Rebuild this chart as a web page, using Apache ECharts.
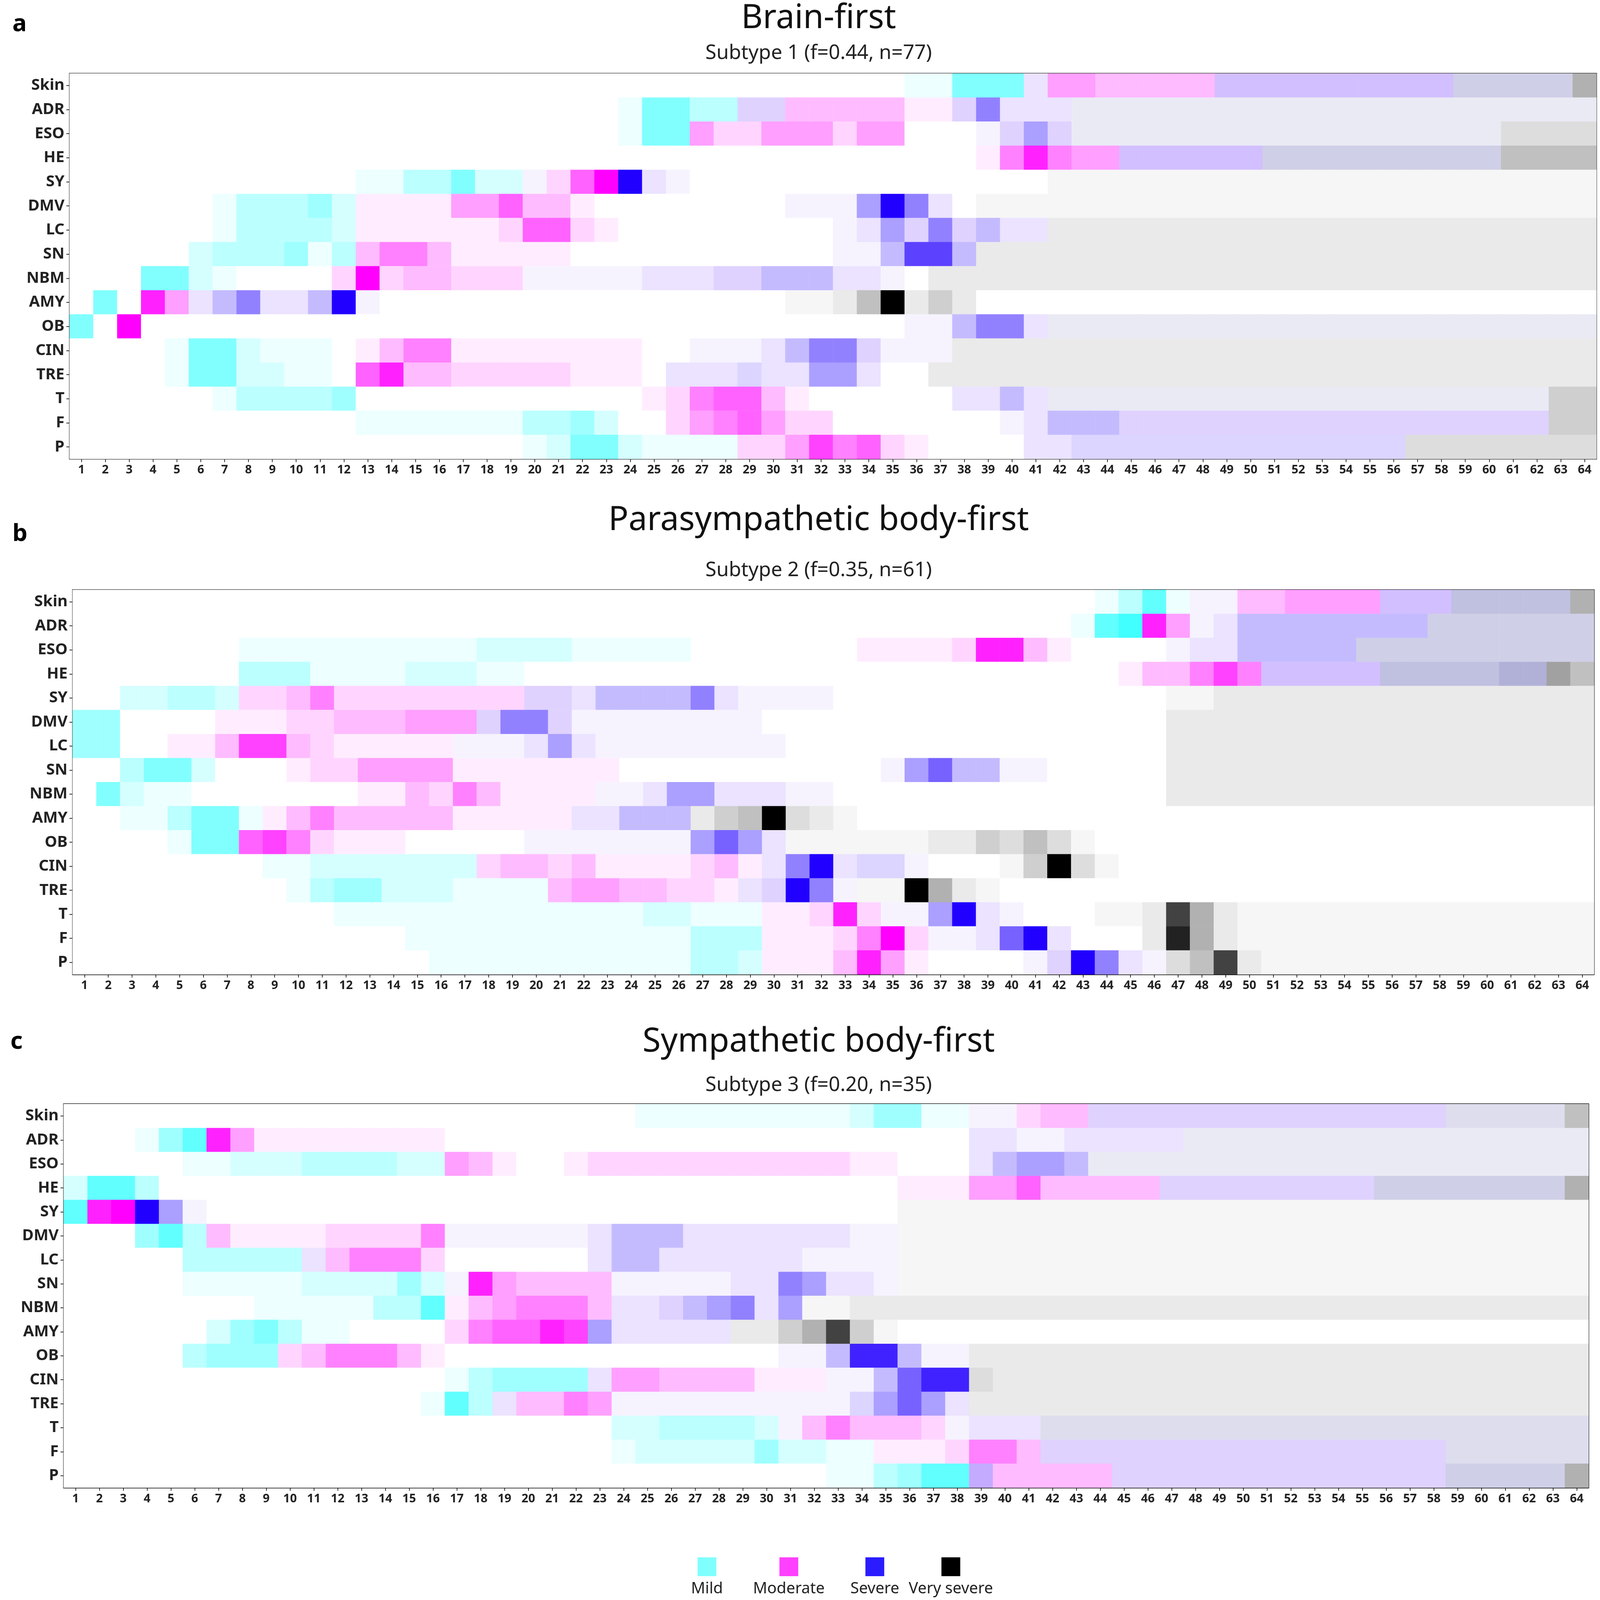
<!DOCTYPE html>
<html><head><meta charset="utf-8">
<script src="https://cdn.jsdelivr.net/npm/echarts@6/dist/echarts.min.js"></script>
<style>html,body{margin:0;background:#fff;overflow:hidden}#c{width:100vw;height:100vh}</style>
</head><body><div id="c"></div>
<script>
const rows = ['Skin','ADR','ESO','HE','SY','DMV','LC','SN','NBM','AMY','OB','CIN','TRE','T','F','P'];
const stages = Array.from({length:64},(_,i)=>String(i+1));
const titles = ['Brain-first','Parasympathetic body-first','Sympathetic body-first'];
const subtitles = ['Subtype 1 (f=0.44, n=77)','Subtype 2 (f=0.35, n=61)','Subtype 3 (f=0.20, n=35)'];
const legendLabels = ['Mild','Moderate','Severe','Very severe'];
// each row: segments [fromStage, toStage, code] ; code = level letter + intensity 0-9
const panelA = [
 [[36,37,'c1'],[38,40,'c5'],[41,41,'p2'],[42,43,'m4'],[44,48,'m3'],[49,58,'p4'],[59,63,'v4'],[64,64,'g6']],
 [[24,24,'c1'],[25,26,'c5'],[27,28,'c3'],[29,30,'p3'],[31,35,'m3'],[36,37,'m1'],[38,38,'p3'],[39,39,'b5'],[40,42,'p2'],[43,64,'v2']],
 [[24,24,'c1'],[25,26,'c5'],[27,27,'m4'],[28,29,'m2'],[30,32,'m4'],[33,33,'m2'],[34,35,'m4'],[39,39,'p1'],[40,40,'p3'],[41,41,'b4'],[42,42,'p3'],[43,60,'v2'],[61,64,'g3']],
 [[39,39,'m1'],[40,40,'m5'],[41,41,'m8'],[42,42,'m5'],[43,44,'m4'],[45,50,'p4'],[51,60,'v4'],[61,64,'g5']],
 [[13,14,'c1'],[15,16,'c3'],[17,17,'c5'],[18,19,'c2'],[20,20,'p1'],[21,21,'m2'],[22,22,'m6'],[23,23,'m9'],[24,24,'b9'],[25,25,'p2'],[26,26,'p1'],[42,64,'g1']],
 [[7,7,'c1'],[8,10,'c3'],[11,11,'c4'],[12,12,'c2'],[13,16,'m1'],[17,18,'m4'],[19,19,'m6'],[20,21,'m3'],[22,22,'m1'],[31,33,'p1'],[34,34,'b4'],[35,35,'b9'],[36,36,'b5'],[37,37,'p2'],[39,64,'g1']],
 [[7,7,'c1'],[8,11,'c3'],[12,12,'c2'],[13,18,'m1'],[19,19,'m2'],[20,21,'m6'],[22,22,'m2'],[23,23,'m1'],[33,33,'p1'],[34,34,'p2'],[35,35,'b4'],[36,36,'p3'],[37,37,'b5'],[38,38,'p3'],[39,39,'b3'],[40,41,'p2'],[42,64,'g2']],
 [[6,6,'c2'],[7,9,'c3'],[10,10,'c4'],[11,11,'c1'],[12,12,'c3'],[13,13,'m3'],[14,15,'m5'],[16,16,'m3'],[17,21,'m1'],[33,34,'p1'],[35,35,'b3'],[36,37,'b7'],[38,38,'b3'],[39,64,'g2']],
 [[4,5,'c5'],[6,6,'c2'],[7,7,'c1'],[12,12,'m2'],[13,13,'m9'],[14,14,'m2'],[15,16,'m3'],[17,19,'m2'],[20,24,'p1'],[25,27,'p2'],[28,29,'p3'],[30,32,'b3'],[33,34,'p2'],[35,35,'p1'],[37,64,'g2']],
 [[2,2,'c5'],[4,4,'m8'],[5,5,'m4'],[6,6,'p2'],[7,7,'b3'],[8,8,'b5'],[9,10,'p2'],[11,11,'b3'],[12,12,'b9'],[13,13,'p1'],[31,32,'g1'],[33,33,'g2'],[34,34,'g5'],[35,35,'k9'],[36,36,'g2'],[37,37,'g4'],[38,38,'g2']],
 [[1,1,'c5'],[3,3,'m9'],[36,37,'p1'],[38,38,'b3'],[39,40,'b5'],[41,41,'p2'],[42,64,'v2']],
 [[5,5,'c1'],[6,7,'c5'],[8,8,'c2'],[9,11,'c1'],[13,13,'m1'],[14,14,'m3'],[15,16,'m5'],[17,24,'m1'],[27,29,'p1'],[30,30,'p2'],[31,31,'b3'],[32,33,'b5'],[34,34,'p3'],[35,37,'p1'],[38,64,'g2']],
 [[5,5,'c1'],[6,7,'c5'],[8,9,'c2'],[10,11,'c1'],[13,13,'m6'],[14,14,'m8'],[15,16,'m3'],[17,21,'m2'],[22,24,'m1'],[26,28,'p2'],[29,29,'b2'],[30,31,'p2'],[32,33,'b4'],[34,34,'p2'],[37,64,'g2']],
 [[7,7,'c1'],[8,11,'c3'],[12,12,'c4'],[25,25,'m1'],[26,26,'m2'],[27,27,'m5'],[28,29,'m6'],[30,30,'m3'],[31,31,'m1'],[38,39,'p2'],[40,40,'b3'],[41,41,'p2'],[42,62,'v2'],[63,64,'g4']],
 [[13,19,'c1'],[20,21,'c3'],[22,22,'c4'],[23,23,'c2'],[26,26,'m2'],[27,27,'m4'],[28,28,'m5'],[29,29,'m6'],[30,30,'m4'],[31,32,'m2'],[40,40,'p1'],[41,41,'p2'],[42,44,'b3'],[45,62,'p3'],[63,64,'g4']],
 [[20,20,'c1'],[21,21,'c2'],[22,23,'c5'],[24,24,'c2'],[25,28,'c1'],[29,30,'m2'],[31,31,'m4'],[32,32,'m7'],[33,33,'m5'],[34,34,'m6'],[35,35,'m2'],[36,36,'m1'],[41,42,'p2'],[43,56,'b2'],[57,64,'g3']]
];
const panelB = [
 [[44,44,'c1'],[45,45,'c3'],[46,46,'c6'],[47,47,'c1'],[48,49,'p1'],[50,51,'m3'],[52,55,'m4'],[56,58,'p4'],[59,63,'v5'],[64,64,'g6']],
 [[43,43,'c1'],[44,44,'c6'],[45,45,'c7'],[46,46,'m8'],[47,47,'m4'],[48,48,'p1'],[49,49,'p2'],[50,57,'b3'],[58,64,'v4']],
 [[8,17,'c1'],[18,21,'c2'],[22,26,'c1'],[34,37,'m1'],[38,38,'m2'],[39,40,'m8'],[41,41,'m3'],[42,42,'m1'],[47,47,'p1'],[48,49,'p2'],[50,54,'b3'],[55,64,'v4']],
 [[8,10,'c3'],[11,14,'c1'],[15,17,'c2'],[18,19,'c1'],[45,45,'m1'],[46,47,'m3'],[48,48,'m5'],[49,49,'m7'],[50,50,'m5'],[51,55,'p4'],[56,60,'v5'],[61,62,'v6'],[63,63,'g7'],[64,64,'g5']],
 [[3,4,'c2'],[5,6,'c3'],[7,7,'c2'],[8,9,'m2'],[10,10,'m3'],[11,11,'m5'],[12,19,'m2'],[20,21,'p3'],[22,22,'p2'],[23,26,'b3'],[27,27,'b5'],[28,28,'p2'],[29,32,'p1'],[47,48,'g1'],[49,64,'g2']],
 [[1,2,'c4'],[7,9,'m1'],[10,11,'m2'],[12,14,'m3'],[15,17,'m4'],[18,18,'p3'],[19,20,'b5'],[21,21,'p3'],[22,29,'p1'],[47,64,'g2']],
 [[1,2,'c4'],[5,6,'m1'],[7,7,'m3'],[8,9,'m7'],[10,10,'m3'],[11,11,'m2'],[12,16,'m1'],[17,19,'p1'],[20,20,'p2'],[21,21,'b4'],[22,22,'p2'],[23,30,'p1'],[47,64,'g2']],
 [[3,3,'c3'],[4,5,'c5'],[6,6,'c2'],[10,10,'m1'],[11,12,'m2'],[13,16,'m4'],[17,23,'m1'],[35,35,'p1'],[36,36,'b4'],[37,37,'b6'],[38,39,'b3'],[40,41,'p1'],[47,64,'g2']],
 [[2,2,'c5'],[3,3,'c2'],[4,5,'c1'],[13,14,'m1'],[15,15,'m3'],[16,16,'m2'],[17,17,'m5'],[18,18,'m3'],[19,22,'m1'],[23,24,'p1'],[25,25,'p2'],[26,27,'b4'],[28,30,'p2'],[31,32,'p1'],[47,64,'g2']],
 [[3,4,'c1'],[5,5,'c3'],[6,7,'c5'],[8,8,'c1'],[9,9,'m1'],[10,10,'m3'],[11,11,'m5'],[12,16,'m3'],[17,21,'m1'],[22,23,'p2'],[24,26,'b3'],[27,27,'g2'],[28,28,'g4'],[29,29,'g5'],[30,30,'k9'],[31,31,'g3'],[32,32,'g2'],[33,33,'g1']],
 [[5,5,'c1'],[6,7,'c5'],[8,8,'m6'],[9,9,'m7'],[10,10,'m5'],[11,11,'m2'],[12,14,'m1'],[20,26,'p1'],[27,27,'b4'],[28,28,'b6'],[29,29,'b4'],[30,30,'p2'],[31,36,'g1'],[37,38,'g2'],[39,39,'g4'],[40,40,'g3'],[41,41,'g5'],[42,42,'g3'],[43,43,'g1']],
 [[9,10,'c1'],[11,17,'c2'],[18,18,'m2'],[19,20,'m3'],[21,21,'m2'],[22,22,'m3'],[23,26,'m1'],[27,27,'m2'],[28,28,'m3'],[29,29,'m1'],[30,30,'p2'],[31,31,'b5'],[32,32,'b9'],[33,33,'p2'],[34,35,'b2'],[36,36,'p1'],[40,40,'g1'],[41,41,'g4'],[42,42,'k9'],[43,43,'g3'],[44,44,'g1']],
 [[10,10,'c1'],[11,11,'c3'],[12,13,'c4'],[14,16,'c2'],[17,20,'c1'],[21,21,'m3'],[22,23,'m4'],[24,25,'m3'],[26,27,'m2'],[28,28,'m1'],[29,29,'p2'],[30,30,'p3'],[31,31,'b9'],[32,32,'b5'],[33,33,'p1'],[34,35,'g1'],[36,36,'k9'],[37,37,'g6'],[38,38,'g2'],[39,39,'g1']],
 [[12,24,'c1'],[25,26,'c2'],[27,29,'c1'],[30,31,'m1'],[32,32,'m2'],[33,33,'m8'],[34,34,'m2'],[35,36,'p1'],[37,37,'b4'],[38,38,'b9'],[39,39,'p2'],[40,40,'p1'],[44,45,'g1'],[46,46,'g2'],[47,47,'k7'],[48,48,'g6'],[49,49,'g2'],[50,64,'g1']],
 [[15,26,'c1'],[27,29,'c3'],[30,32,'m1'],[33,33,'m2'],[34,34,'m5'],[35,35,'m9'],[36,36,'m2'],[37,38,'p1'],[39,39,'p2'],[40,40,'b6'],[41,41,'b9'],[42,42,'p2'],[46,46,'g2'],[47,47,'k8'],[48,48,'g6'],[49,49,'g2'],[50,64,'g1']],
 [[16,26,'c1'],[27,28,'c3'],[29,29,'c2'],[30,31,'m1'],[32,32,'m1'],[33,33,'m3'],[34,34,'m8'],[35,35,'m4'],[36,36,'m1'],[41,41,'p1'],[42,42,'p3'],[43,43,'b9'],[44,44,'b5'],[45,45,'p2'],[46,46,'p1'],[47,47,'g3'],[48,48,'g5'],[49,49,'k7'],[50,50,'g2'],[51,64,'g1']]
];
const panelC = [
 [[25,33,'c1'],[34,34,'c2'],[35,36,'c4'],[37,38,'c1'],[39,40,'p1'],[41,41,'m2'],[42,43,'m3'],[44,58,'p3'],[59,63,'v3'],[64,64,'g5']],
 [[4,4,'c1'],[5,5,'c4'],[6,6,'c6'],[7,7,'m8'],[8,8,'m4'],[9,16,'m1'],[39,40,'p2'],[41,42,'p1'],[43,47,'p2'],[48,64,'v2']],
 [[6,7,'c1'],[8,10,'c2'],[11,14,'c3'],[15,16,'c2'],[17,17,'m4'],[18,18,'m3'],[19,19,'m1'],[22,22,'m1'],[23,33,'m2'],[34,35,'m1'],[39,39,'p2'],[40,40,'b3'],[41,42,'b4'],[43,43,'b3'],[44,64,'v2']],
 [[1,1,'c2'],[2,3,'c6'],[4,4,'c3'],[36,38,'m1'],[39,40,'m4'],[41,41,'m6'],[42,46,'m3'],[47,55,'p3'],[56,63,'v4'],[64,64,'g6']],
 [[1,1,'c6'],[2,2,'m8'],[3,3,'m9'],[4,4,'b9'],[5,5,'b4'],[6,6,'p1'],[36,64,'g1']],
 [[4,4,'c4'],[5,5,'c6'],[6,6,'c3'],[7,7,'m3'],[8,11,'m1'],[12,15,'m2'],[16,16,'m5'],[17,22,'p1'],[23,23,'p2'],[24,26,'b3'],[27,33,'p2'],[34,35,'p1'],[36,64,'g1']],
 [[6,10,'c3'],[11,11,'p2'],[12,12,'m3'],[13,15,'m5'],[16,16,'m2'],[23,23,'p2'],[24,25,'b3'],[26,31,'p2'],[32,35,'p1'],[36,64,'g1']],
 [[6,10,'c1'],[11,14,'c2'],[15,15,'c4'],[16,16,'c2'],[17,17,'p1'],[18,18,'m8'],[19,19,'m4'],[20,23,'m3'],[24,28,'p1'],[29,30,'p2'],[31,31,'b5'],[32,32,'b4'],[33,34,'p2'],[35,35,'p1'],[36,64,'g1']],
 [[9,13,'c1'],[14,15,'c3'],[16,16,'c6'],[17,17,'m1'],[18,18,'m3'],[19,19,'m4'],[20,22,'m5'],[23,23,'m3'],[24,25,'p2'],[26,26,'p3'],[27,27,'b3'],[28,28,'b4'],[29,29,'b5'],[30,30,'p2'],[31,31,'b4'],[32,33,'g1'],[34,64,'g2']],
 [[7,7,'c2'],[8,8,'c4'],[9,9,'c5'],[10,10,'c3'],[11,12,'c1'],[17,17,'m2'],[18,18,'m5'],[19,20,'m6'],[21,21,'m8'],[22,22,'m7'],[23,23,'b4'],[24,28,'p2'],[29,30,'g2'],[31,31,'g4'],[32,32,'g6'],[33,33,'k7'],[34,34,'g4'],[35,35,'g1']],
 [[6,6,'c3'],[7,9,'c4'],[10,10,'m2'],[11,11,'m3'],[12,14,'m5'],[15,15,'m3'],[16,16,'m1'],[31,32,'p1'],[33,33,'b3'],[34,35,'b8'],[36,36,'b3'],[37,38,'p1'],[39,64,'g2']],
 [[17,17,'c1'],[18,18,'c3'],[19,22,'c4'],[23,23,'p2'],[24,25,'m4'],[26,29,'m3'],[30,32,'m1'],[33,34,'p1'],[35,35,'b3'],[36,36,'b6'],[37,38,'b8'],[39,39,'g3'],[40,64,'g2']],
 [[16,16,'c1'],[17,17,'c6'],[18,18,'c3'],[19,19,'p2'],[20,21,'m3'],[22,22,'m5'],[23,23,'m4'],[24,33,'p1'],[34,34,'b2'],[35,35,'b4'],[36,36,'b6'],[37,37,'b4'],[38,38,'p2'],[39,64,'g2']],
 [[24,25,'c2'],[26,29,'c3'],[30,30,'c2'],[31,31,'p1'],[32,32,'m3'],[33,33,'m5'],[34,36,'m3'],[37,37,'m2'],[38,38,'p1'],[39,41,'p2'],[42,64,'v3']],
 [[24,24,'c1'],[25,29,'c2'],[30,30,'c4'],[31,32,'c2'],[33,34,'c1'],[35,37,'m1'],[38,38,'m2'],[39,40,'m5'],[41,41,'m3'],[42,58,'p3'],[59,64,'v3']],
 [[33,34,'c1'],[35,35,'c3'],[36,36,'c4'],[37,38,'c6'],[39,39,'p5'],[40,44,'m3'],[45,58,'p3'],[59,63,'v4'],[64,64,'g6']]
];
const base = {c:[0,255,255],m:[255,0,255],b:[34,0,255],k:[0,0,0],g:[128,128,128],p:[136,85,255],v:[128,128,192]};
function col(code){
  const b = base[code[0]], a = Math.min(1,Math.pow((+code.slice(1))/9,1.2));
  const ch = b.map(v=>Math.round(255*(1-a)+v*a));
  return 'rgb('+ch.join(',')+')';
}
function build(panel){
  const out=[];
  panel.forEach((segs,r)=>{
    const cells = new Array(64).fill(null);
    segs.forEach(([f,t,c])=>{for(let s=f;s<=t;s++)cells[s-1]=c;});
    cells.forEach((c,i)=>out.push({value:[i,r,1],itemStyle:{color:c?col(c):'#ffffff'}}));
  });
  return out;
}
const el=document.getElementById('c');
const W=el.clientWidth||window.innerWidth, H=el.clientHeight||window.innerHeight;
const sx=W/4651, sy=H/5100, fs=Math.min(sx,sy);
const X=v=>v*sx, Y=v=>v*sy;
const gridsRef = [
 [202,234,4439,1229],[211,1880,4423,1226],[185,3519,4433,1223]
];
const grids = gridsRef.map(g=>({left:X(g[0]),top:Y(g[1]),width:X(g[2]),height:Y(g[3])}));
const FF='Noto Sans';
const xAxes=[],yAxes=[],series=[],title=[];
grids.forEach((g,i)=>{
  xAxes.push({type:'category',data:stages,gridIndex:i,position:'bottom',
    axisLine:{lineStyle:{color:'#000',width:3*fs}},axisTick:{show:true,alignWithLabel:true,length:10*fs,lineStyle:{color:'#000',width:2*fs}},
    axisLabel:{interval:0,fontSize:38*fs,fontWeight:'bold',color:'#222',fontFamily:FF,margin:16*fs},splitLine:{show:false}});
  xAxes.push({type:'category',data:stages,gridIndex:i,position:'top',axisLine:{lineStyle:{color:'#000',width:3*fs}},axisTick:{show:false},axisLabel:{show:false}});
  yAxes.push({type:'category',data:rows,gridIndex:i,inverse:true,position:'left',
    axisLine:{lineStyle:{color:'#000',width:3*fs}},axisTick:{show:true,alignWithLabel:true,length:10*fs,lineStyle:{color:'#000',width:2*fs}},
    axisLabel:{interval:0,fontSize:50*fs,fontWeight:'bold',color:'#222',fontFamily:FF,margin:16*fs}});
  yAxes.push({type:'category',data:rows,gridIndex:i,inverse:true,position:'right',axisLine:{lineStyle:{color:'#000',width:3*fs}},axisTick:{show:false},axisLabel:{show:false}});
  series.push({type:'heatmap',xAxisIndex:2*i,yAxisIndex:2*i,data:build([panelA,panelB,panelC][i]),itemStyle:{borderWidth:0}});
});
const tTops=[0,1600,3262], sTops=[132,1780,3422];
titles.forEach((t,i)=>{
  title.push({text:t,left:X(2374),top:Y(tTops[i]),textAlign:'center',textStyle:{fontSize:106*fs,fontWeight:'normal',color:'#111',fontFamily:FF}});
  title.push({text:subtitles[i],left:X(2374),top:Y(sTops[i]),textAlign:'center',textStyle:{fontSize:64*fs,fontWeight:'normal',color:'#222',fontFamily:FF}});
});
const letters=[['a',36,40],['b',36,1665],['c',30,3283]];
const legCols=['#80ffff','#ff40ff','#2a1cff','#000000'];
const legX=[2055,2293,2543,2764];
const graphic=[];
letters.forEach(([l,x,y])=>graphic.push({type:'text',left:X(x),top:Y(y),style:{text:l,fontSize:76*fs,fontWeight:'bold',fill:'#000',fontFamily:FF}}));
legendLabels.forEach((l,i)=>{
  graphic.push({type:'rect',shape:{x:X(legX[i])-30*fs,y:Y(4964),width:60*fs,height:60*fs},style:{fill:legCols[i]}});
  graphic.push({type:'text',x:X(legX[i]),y:Y(5040),style:{text:l,fontSize:50*fs,fill:'#222',fontFamily:FF,textAlign:'center'}});
});
const chart=echarts.init(el);
chart.setOption({backgroundColor:'#fff',animation:false,title,grid:grids,xAxis:xAxes,yAxis:yAxes,series,graphic});
</script></body></html>
